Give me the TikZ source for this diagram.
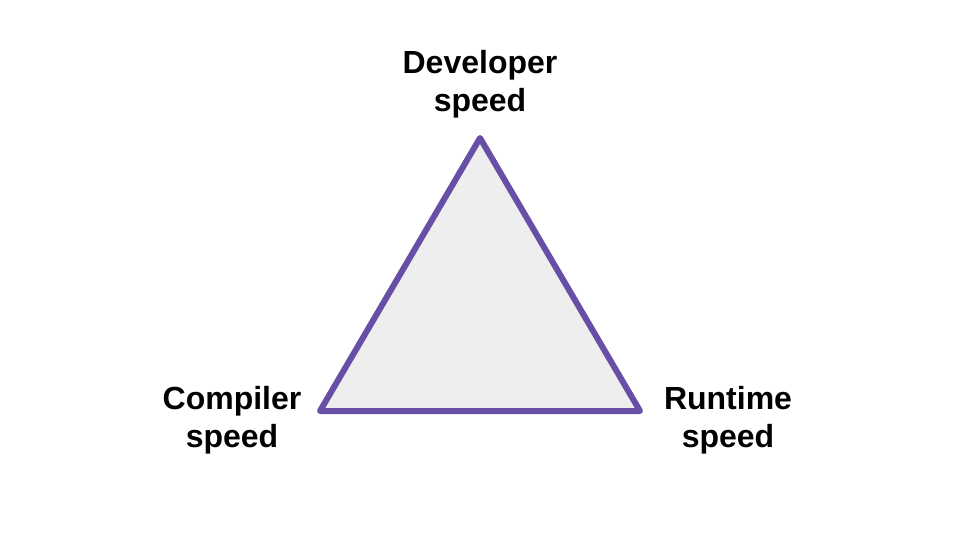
\documentclass[tikz,border=0pt]{standalone}
\usepackage{fontspec}
\setmainfont{Liberation Sans}
\definecolor{tripurple}{HTML}{674EA7}
\definecolor{trifill}{HTML}{EEEEEE}
\begin{document}
\begin{tikzpicture}[x=1pt,y=-1pt,
  lbl/.style={align=center,font=\fontsize{32}{38}\selectfont\bfseries,inner sep=0pt},
  tri/.style={draw=tripurple,fill=trifill,line width=6pt,line join=round}]
\useasboundingbox (0,0) rectangle (960,540);
\coordinate (top) at (480,138);
\coordinate (bl) at (320,411);
\coordinate (br) at (640,411);
\draw[tri] (top) -- (bl) -- (br) -- cycle;
\node[lbl] (dev) at (480,84) {Developer\\speed};
\node[lbl] (comp) at (232,420) {Compiler\\speed};
\node[lbl] (run) at (728,420) {Runtime\\speed};
\end{tikzpicture}
\end{document}
